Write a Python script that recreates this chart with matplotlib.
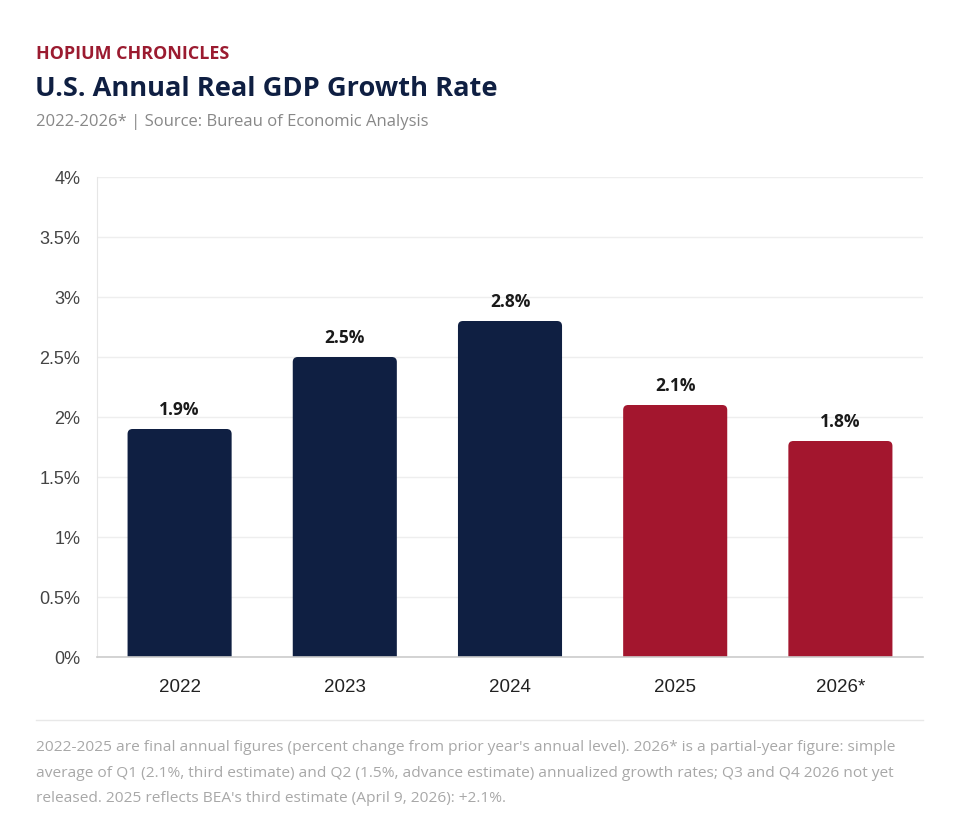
import matplotlib
matplotlib.use("Agg")
import matplotlib.pyplot as plt
from matplotlib.patches import FancyBboxPatch
from matplotlib.lines import Line2D

categories = ["2022", "2023", "2024", "2025", "2026*"]
values = [1.9, 2.5, 2.8, 2.1, 1.8]
labels = ["1.9%", "2.5%", "2.8%", "2.1%", "1.8%"]
yticks = [0, 0.5, 1, 1.5, 2, 2.5, 3, 3.5, 4]
ytick_labels = ["0%", "0.5%", "1%", "1.5%", "2%", "2.5%", "3%", "3.5%", "4%"]
navy = "#0f1f42"
red = "#a3162e"
colors = [navy, navy, navy, red, red]

W, H = 960, 840
fig = plt.figure(figsize=(9.6, 8.4), dpi=100)
fig.patch.set_facecolor("white")

ax_l, ax_r, ax_t, ax_b = 97, 923, 177, 657
ax = fig.add_axes([ax_l / W, 1 - ax_b / H, (ax_r - ax_l) / W, (ax_b - ax_t) / H])
ax.set_xlim(-0.5, len(categories) - 0.5)
ax.set_ylim(0, 4)

bw = 0.63
px_x = (ax_r - ax_l) / len(categories)
px_y = (ax_b - ax_t) / 4.0
r_px = 5
bars = ax.bar(range(len(categories)), values, width=bw, color=colors)
for b, c in zip(bars, colors):
    b.set_visible(False)
    x0 = b.get_x()
    h = b.get_height()
    fb = FancyBboxPatch((x0, -0.1), bw, h + 0.1,
                        boxstyle=f"round,pad=0,rounding_size={r_px / px_x}",
                        mutation_aspect=px_x / px_y,
                        facecolor=c, edgecolor="none", zorder=3, clip_on=True)
    ax.add_patch(fb)

for i, (v, lab) in enumerate(zip(values, labels)):
    ax.annotate(lab, (i, v), xytext=(0, 7), textcoords="offset points",
                ha="center", va="bottom", fontsize=12.5, fontweight="bold",
                color="#1a1a1a", family="Open Sans", zorder=4)

ax.set_yticks(yticks)
ax.set_yticklabels(ytick_labels, fontsize=13, color="#444444", family="Liberation Sans")
ax.set_xticks(range(len(categories)))
ax.set_xticklabels(categories, fontsize=13.5, color="#222222", family="Liberation Sans")
ax.tick_params(axis="y", length=0, pad=12)
ax.tick_params(axis="x", length=0, pad=15.5)
ax.grid(axis="y", color="#eeeeee", linewidth=1, zorder=0)
ax.set_axisbelow(True)
for s in ["top", "right"]:
    ax.spines[s].set_visible(False)
ax.spines["left"].set_color("#e6e6e6")
ax.spines["bottom"].set_color("#cccccc")
ax.spines["bottom"].set_linewidth(1.2)
ax.spines["bottom"].set_zorder(5)

fig.text(36 / W, 1 - 54 / H, "HOPIUM CHRONICLES", fontsize=12.9, fontweight="bold",
         color="#9b1b30", family="Open Sans", va="center", ha="left")
fig.text(35 / W, 1 - 89 / H, "U.S. Annual Real GDP Growth Rate", fontsize=19.6,
         fontweight="bold", color="#0f1f42", family="Open Sans", va="center", ha="left")
fig.text(36 / W, 1 - 122 / H, "2022-2026* | Source: Bureau of Economic Analysis",
         fontsize=12, color="#888888", family="Open Sans", va="center", ha="left")

fig.add_artist(Line2D([36 / W, 923 / W], [1 - 720 / H, 1 - 720 / H],
                      color="#e8e8e8", linewidth=1, transform=fig.transFigure))

foot = ("2022-2025 are final annual figures (percent change from prior year's annual level). 2026* is a partial-year figure: simple\n"
        "average of Q1 (2.1%, third estimate) and Q2 (1.5%, advance estimate) annualized growth rates; Q3 and Q4 2026 not yet\n"
        "released. 2025 reflects BEA's third estimate (April 9, 2026): +2.1%.")
fig.text(36 / W, 1 - 740 / H, foot, fontsize=11.15, color="#a8a8a8", family="Open Sans",
         va="top", ha="left", linespacing=1.97)

fig.savefig("out.png", dpi=100, facecolor="white")
